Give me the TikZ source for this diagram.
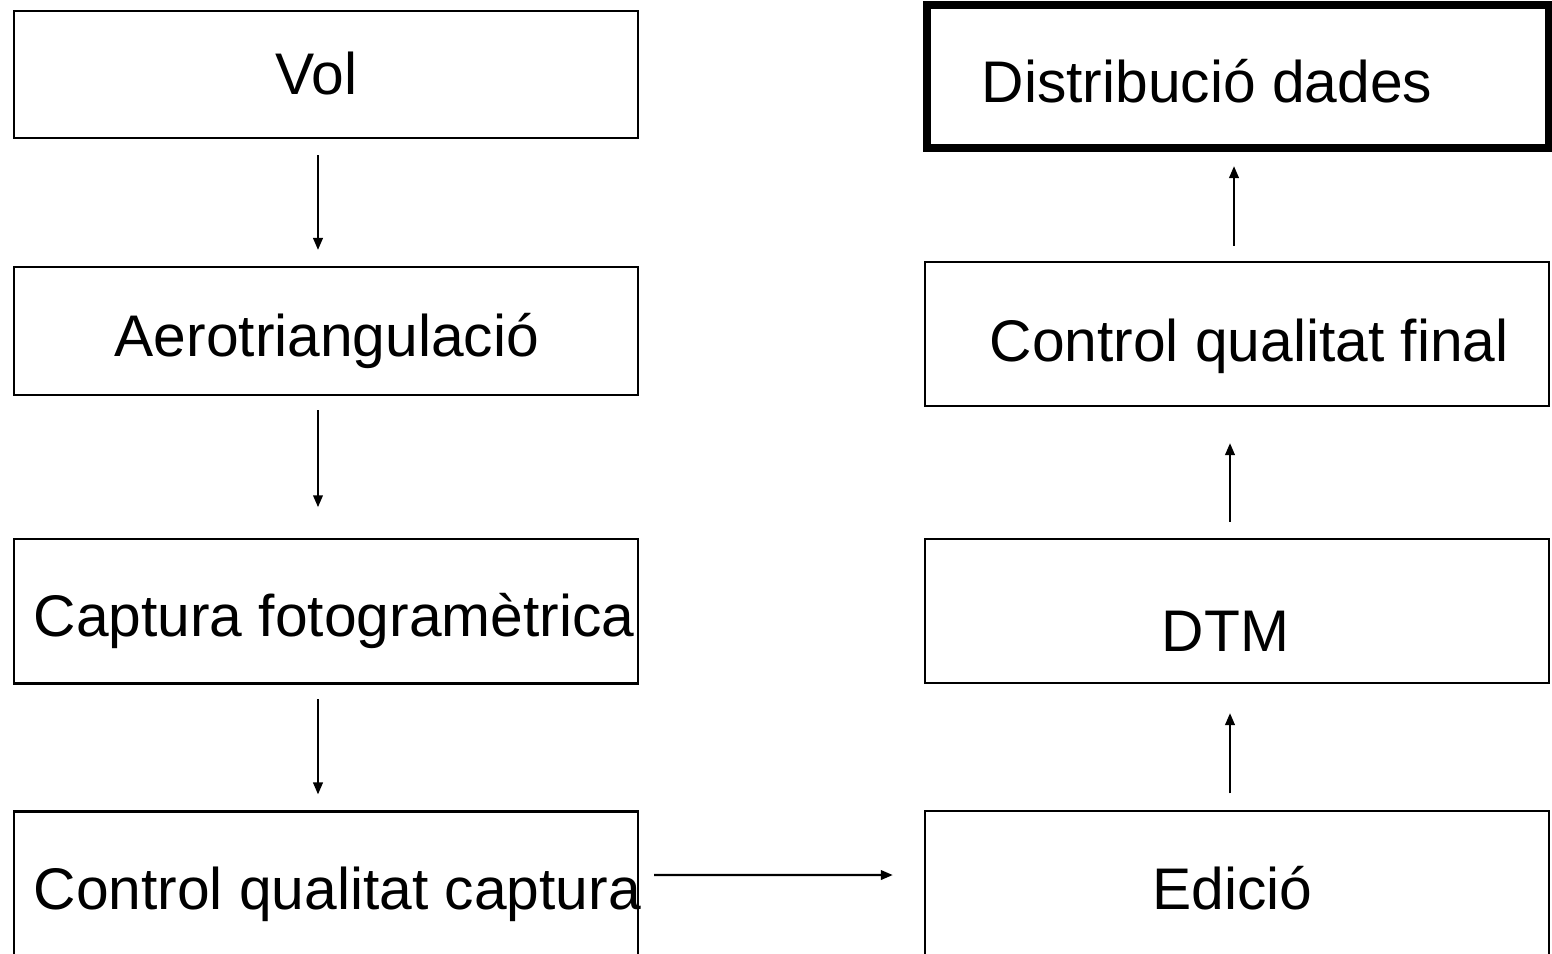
\documentclass[tikz,border=0pt]{standalone}
\usepackage{fontspec}
\setmainfont{Liberation Sans}
\usetikzlibrary{arrows.meta}

\begin{document}
\begin{tikzpicture}[
  x=0.01cm, y=-0.01cm,
  box/.style = {draw, line width=0.65pt, inner sep=0pt, outer sep=0pt,
    minimum width=6.24cm, minimum height=1.44cm},
  finalbox/.style = {box, line width=0.08cm, minimum width=6.22cm, minimum height=1.425cm},
  lbl/.style = {anchor=base west, inner sep=0pt, font=\fontsize{16.7}{20}\selectfont},
  arr/.style = {line width=0.65pt, -{Triangle[length=0.12cm, width=0.095cm]}}]
  \useasboundingbox (0,0) rectangle (1552,953);
  \clip (0,0) rectangle (1552,953);
  % left column
  \node[box, minimum height=1.273cm] (vol) at (326,74.4) {};
  \node[box, minimum height=1.28cm] (aero) at (326,331) {};
  \node[box] (captura) at (326,611.3) {};
  \node[box] (ctrlcap) at (326,883.5) {};
  \node[lbl] (tvol) at (275,94.3) {Vol};
  \node[lbl] (taero) at (114,356.7) {Aerotriangulació};
  \node[lbl] (tcaptura) at (33,636.7) {Captura fotogramètrica};
  \node[lbl] (tctrlcap) at (33,909) {Control qualitat captura};
  % right column
  \node[finalbox] (dist) at (1238,76.75) {};
  \node[box] (ctrlfin) at (1237,334) {};
  \node[box] (dtm) at (1237,611) {};
  \node[box] (edicio) at (1237,883) {};
  \node[lbl] (tdist) at (981,102) {Distribució dades};
  \node[lbl] (tctrlfin) at (989,361.7) {Control qualitat final};
  \node[lbl] (tdtm) at (1161,651.7) {DTM};
  \node[lbl] (tedicio) at (1152,909) {Edició};
  % arrows
  \draw[arr] ([xshift=-0.08cm,yshift=-0.17cm]vol.south) -- ([xshift=-0.08cm,yshift=0.17cm]aero.north);
  \draw[arr] ([xshift=-0.08cm,yshift=-0.15cm]aero.south) -- ([xshift=-0.08cm,yshift=0.32cm]captura.north);
  \draw[arr] ([xshift=-0.08cm,yshift=-0.157cm]captura.south) -- ([xshift=-0.08cm,yshift=0.17cm]ctrlcap.north);
  \draw[arr] ([xshift=0.16cm,yshift=0.085cm]ctrlcap.east) -- ([xshift=-0.32cm,yshift=0.08cm]edicio.west);
  \draw[arr] ([xshift=-0.07cm,yshift=0.175cm]edicio.north) -- ([xshift=-0.07cm,yshift=-0.30cm]dtm.south);
  \draw[arr] ([xshift=-0.07cm,yshift=0.17cm]dtm.north) -- ([xshift=-0.07cm,yshift=-0.37cm]ctrlfin.south);
  \draw[arr] ([xshift=-0.03cm,yshift=0.16cm]ctrlfin.north) -- ([xshift=-0.04cm,yshift=-0.18cm]dist.south);
\end{tikzpicture}
\end{document}
